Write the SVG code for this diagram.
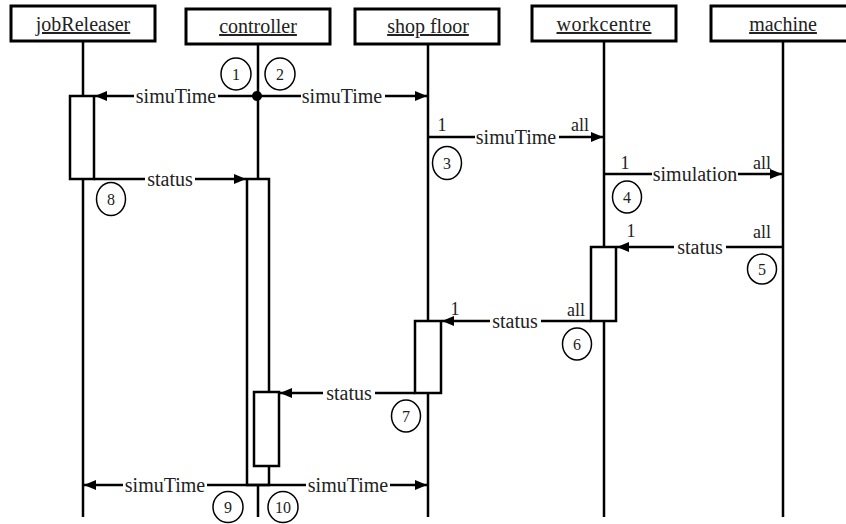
<svg xmlns="http://www.w3.org/2000/svg" width="846" height="524" viewBox="0 0 846 524">
<defs>
<style>
.hdr{fill:#fff;stroke:#000;stroke-width:3}
.hdrt{font-family:"Liberation Serif","Times New Roman",serif;font-size:20px;text-anchor:middle;text-decoration:underline;fill:#222}
.life{stroke:#000;stroke-width:2.5;fill:none}
.act{fill:#fff;stroke:#000;stroke-width:2.5}
.msg{stroke:#000;stroke-width:2.5;fill:none}
.arr{marker-end:url(#ah)}
.lbl{font-family:"Liberation Serif","Times New Roman",serif;font-size:20px;text-anchor:middle;fill:#222}
.gap{fill:#fff}
.mult{font-family:"Liberation Serif","Times New Roman",serif;font-size:18px;text-anchor:middle;fill:#222}
.num{fill:#fff;stroke:#000;stroke-width:1.5}
.numt{font-family:"Liberation Serif","Times New Roman",serif;font-size:16px;text-anchor:middle;fill:#222}
</style>
<marker id="ah" markerUnits="userSpaceOnUse" markerWidth="12" markerHeight="10" refX="12" refY="5" orient="auto">
<path d="M0,0 L12,5 L0,10 z" fill="#000"/>
</marker>
</defs>

<g id="lifelines">
<line class="life" x1="83" y1="42" x2="83" y2="517"/>
<line class="life" x1="258" y1="44" x2="258" y2="517"/>
<line class="life" x1="428" y1="44" x2="428" y2="517"/>
<line class="life" x1="604" y1="42" x2="604" y2="517"/>
<line class="life" x1="783" y1="42" x2="783" y2="517"/>
</g>

<g id="jobReleaser">
<rect class="hdr" x="11" y="6" width="144" height="35"/>
<text class="hdrt" x="83" y="31">jobReleaser</text>
<rect class="act" x="70" y="96" width="24" height="83"/>
</g>

<g id="controller">
<rect class="hdr" x="186" y="9" width="144" height="35"/>
<text class="hdrt" x="258" y="33">controller</text>
<rect class="act" x="247" y="179" width="22" height="306"/>
<rect class="act" x="254" y="392" width="25" height="74"/>
</g>

<g id="shopfloor">
<rect class="hdr" x="355" y="9" width="144" height="35"/>
<text class="hdrt" x="428" y="33">shop floor</text>
<rect class="act" x="415" y="321" width="26" height="72"/>
</g>

<g id="workcentre">
<rect class="hdr" x="532" y="6" width="144" height="35"/>
<text class="hdrt" x="604" y="31" letter-spacing="0.5">workcentre</text>
<rect class="act" x="591" y="247" width="25" height="74"/>
</g>

<g id="machine">
<rect class="hdr" x="711" y="6" width="146" height="35"/>
<text class="hdrt" x="783" y="31">machine</text>
</g>

<g id="connectors">
<circle cx="257" cy="96" r="5" fill="#000"/>
<line class="msg arr" x1="257" y1="96" x2="95" y2="96"/>
<line class="msg arr" x1="257" y1="96" x2="427" y2="96"/>
<line class="msg arr" x1="428" y1="137" x2="603" y2="137"/>
<line class="msg arr" x1="604" y1="174" x2="782" y2="174"/>
<line class="msg arr" x1="783" y1="247" x2="617" y2="247"/>
<line class="msg arr" x1="591" y1="321" x2="442" y2="321"/>
<line class="msg arr" x1="415" y1="393" x2="280" y2="393"/>
<line class="msg arr" x1="94" y1="179" x2="246" y2="179"/>
<line class="msg arr" x1="247" y1="485" x2="84" y2="485"/>
<line class="msg arr" x1="269" y1="485" x2="427" y2="485"/>
<line class="msg" x1="247" y1="485" x2="269" y2="485"/>
</g>

<g id="labels">
<rect class="gap" x="134" y="92" width="84" height="8"/>
<text class="lbl" x="176" y="103">simuTime</text>
<rect class="gap" x="301" y="92" width="84" height="8"/>
<text class="lbl" x="342" y="103">simuTime</text>
<rect class="gap" x="475" y="133" width="84" height="8"/>
<text class="lbl" x="516" y="144">simuTime</text>
<rect class="gap" x="652" y="170" width="86" height="8"/>
<text class="lbl" x="695" y="181">simulation</text>
<rect class="gap" x="674" y="243" width="52" height="8"/>
<text class="lbl" x="700" y="254">status</text>
<rect class="gap" x="490" y="317" width="51" height="8"/>
<text class="lbl" x="515" y="328">status</text>
<rect class="gap" x="323" y="389" width="52" height="8"/>
<text class="lbl" x="349" y="400">status</text>
<rect class="gap" x="145" y="175" width="50" height="8"/>
<text class="lbl" x="170" y="186">status</text>
<rect class="gap" x="123" y="481" width="84" height="8"/>
<text class="lbl" x="165" y="492">simuTime</text>
<rect class="gap" x="306" y="481" width="84" height="8"/>
<text class="lbl" x="348" y="492">simuTime</text>

<text class="mult" x="442" y="131">1</text>
<text class="mult" x="580" y="131">all</text>
<text class="mult" x="625" y="169">1</text>
<text class="mult" x="762" y="169">all</text>
<text class="mult" x="631" y="237">1</text>
<text class="mult" x="762" y="238">all</text>
<text class="mult" x="455" y="315">1</text>
<text class="mult" x="576" y="316">all</text>
</g>

<g id="steps">
<ellipse class="num" cx="236" cy="74" rx="15" ry="16"/><text class="numt" x="236" y="79.5">1</text>
<ellipse class="num" cx="280" cy="74" rx="15" ry="16"/><text class="numt" x="280" y="79.5">2</text>
<ellipse class="num" cx="447" cy="163" rx="14.5" ry="16.5"/><text class="numt" x="447" y="168.5">3</text>
<ellipse class="num" cx="627" cy="197" rx="14.5" ry="16"/><text class="numt" x="627" y="202.5">4</text>
<ellipse class="num" cx="762" cy="269" rx="14.5" ry="15"/><text class="numt" x="762" y="274.5">5</text>
<ellipse class="num" cx="577" cy="344" rx="14.5" ry="16"/><text class="numt" x="577" y="349.5">6</text>
<ellipse class="num" cx="406" cy="416" rx="14.5" ry="16"/><text class="numt" x="406" y="421.5">7</text>
<ellipse class="num" cx="111" cy="199" rx="14.5" ry="16.5"/><text class="numt" x="111" y="204.5">8</text>
<ellipse class="num" cx="228" cy="507" rx="15" ry="15.5"/><text class="numt" x="228" y="512.5">9</text>
<ellipse class="num" cx="283" cy="507" rx="15" ry="15.5"/><text class="numt" x="283" y="512.5">10</text>
</g>
</svg>
